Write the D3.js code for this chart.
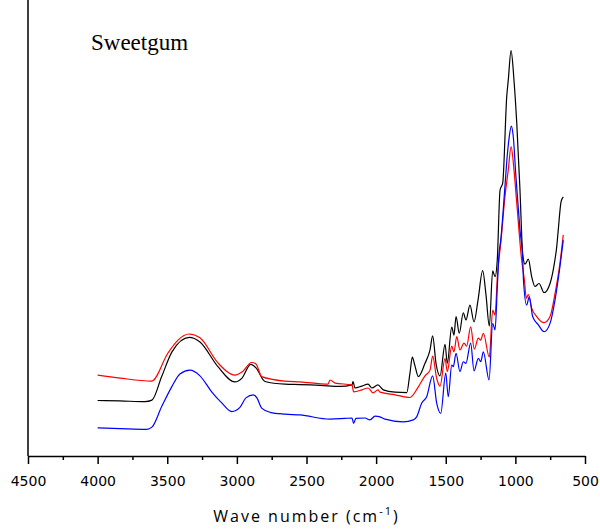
<!DOCTYPE html>
<html>
<head>
<meta charset="utf-8">
<script src="https://cdn.jsdelivr.net/npm/d3@7"></script>
<style>
  body { margin: 0; background: #fff; }
</style>
</head>
<body>
<svg id="plot"></svg>
<script>
// Spectra: [wave number (cm-1), absorbance (a.u.)]
const blackSpectrum = [
  [4000, 0.146], [3840, 0.145], [3660, 0.143], [3610, 0.147], [3540, 0.209],
  [3466, 0.274], [3342, 0.312], [3265, 0.300], [3136, 0.235], [3014, 0.195],
  [2963, 0.205], [2901, 0.241], [2863, 0.232], [2798, 0.196], [2654, 0.189],
  [2547, 0.188], [2403, 0.186], [2259, 0.183], [2173, 0.187], [2166, 0.196],
  [2152, 0.179], [2102, 0.184], [2058, 0.189], [2030, 0.179], [1987, 0.187],
  [1949, 0.174], [1864, 0.168], [1780, 0.167], [1757, 0.218], [1740, 0.260],
  [1721, 0.237], [1697, 0.209], [1649, 0.244], [1613, 0.279], [1594, 0.316],
  [1570, 0.244], [1541, 0.211], [1505, 0.294], [1489, 0.244], [1457, 0.339],
  [1441, 0.318], [1426, 0.367], [1403, 0.323], [1374, 0.377], [1355, 0.358],
  [1326, 0.397], [1297, 0.353], [1268, 0.411], [1235, 0.488], [1211, 0.424],
  [1187, 0.342], [1163, 0.487], [1146, 0.472], [1130, 0.516], [1110, 0.700],
  [1091, 0.718], [1062, 0.946], [1051, 0.989], [1031, 1.067], [1010, 0.989],
  [990, 0.876], [967, 0.700], [947, 0.530], [931, 0.505], [907, 0.518],
  [883, 0.472], [859, 0.446], [830, 0.454], [794, 0.430], [751, 0.454],
  [720, 0.507], [703, 0.551], [692, 0.595], [672, 0.669], [656, 0.682]
];

const redSpectrum = [
  [4000, 0.213], [3839, 0.205], [3612, 0.197], [3495, 0.271], [3423, 0.305],
  [3344, 0.321], [3265, 0.311], [3136, 0.245], [3014, 0.213], [2963, 0.221],
  [2894, 0.246], [2863, 0.242], [2822, 0.209], [2654, 0.197], [2547, 0.195],
  [2346, 0.189], [2331, 0.200], [2295, 0.192], [2173, 0.187], [2162, 0.169],
  [2102, 0.174], [2058, 0.179], [2022, 0.166], [1987, 0.174], [1972, 0.168],
  [1864, 0.161], [1757, 0.154], [1697, 0.182], [1649, 0.211], [1613, 0.226],
  [1594, 0.263], [1565, 0.204], [1541, 0.184], [1505, 0.257], [1489, 0.222],
  [1457, 0.289], [1441, 0.274], [1421, 0.314], [1398, 0.279], [1369, 0.297],
  [1350, 0.289], [1321, 0.340], [1295, 0.281], [1266, 0.310], [1249, 0.305],
  [1230, 0.323], [1187, 0.260], [1163, 0.384], [1146, 0.371], [1129, 0.475],
  [1105, 0.560], [1075, 0.682], [1051, 0.753], [1031, 0.814], [1010, 0.753],
  [990, 0.665], [955, 0.516], [935, 0.462], [921, 0.415], [907, 0.425],
  [883, 0.389], [847, 0.367], [794, 0.351], [751, 0.367], [715, 0.428],
  [680, 0.507], [656, 0.582]
];

const blueSpectrum = [
  [4000, 0.074], [3839, 0.072], [3648, 0.070], [3610, 0.076], [3540, 0.130],
  [3468, 0.182], [3409, 0.216], [3337, 0.226], [3265, 0.211], [3181, 0.169],
  [3107, 0.139], [3037, 0.117], [2978, 0.128], [2935, 0.153], [2882, 0.161],
  [2856, 0.153], [2822, 0.126], [2762, 0.115], [2654, 0.110], [2547, 0.108],
  [2331, 0.097], [2224, 0.099], [2173, 0.100], [2162, 0.086], [2145, 0.099],
  [2080, 0.100], [2044, 0.095], [2008, 0.105], [1972, 0.103], [1936, 0.097],
  [1805, 0.090], [1733, 0.095], [1709, 0.103], [1673, 0.139], [1637, 0.156],
  [1594, 0.211], [1565, 0.139], [1536, 0.112], [1500, 0.218], [1482, 0.156],
  [1457, 0.239], [1446, 0.235], [1426, 0.270], [1398, 0.222], [1374, 0.248],
  [1355, 0.244], [1321, 0.297], [1297, 0.224], [1266, 0.257], [1249, 0.248],
  [1230, 0.274], [1189, 0.200], [1163, 0.349], [1146, 0.332], [1129, 0.450],
  [1118, 0.530], [1105, 0.568], [1075, 0.709], [1058, 0.792], [1044, 0.840],
  [1029, 0.868], [1015, 0.840], [996, 0.735], [967, 0.595], [947, 0.516],
  [942, 0.463], [919, 0.397], [900, 0.419], [876, 0.367], [835, 0.345],
  [794, 0.327], [751, 0.349], [715, 0.411], [680, 0.498], [656, 0.568]
];

const series = [
  { name: "black", color: "#000000", values: blackSpectrum },
  { name: "red", color: "#ff0000", values: redSpectrum },
  { name: "blue", color: "#0000ff", values: blueSpectrum }
];

const xTicks = d3.range(4500, 499, -250);

// Dimensions
const margin = { top: 0, right: 15, bottom: 75, left: 28 };
const width = 600 - margin.left - margin.right;
const height = 531 - margin.top - margin.bottom;

const svg = d3.select('#plot')
    .attr("width", width + margin.left + margin.right)
    .attr("height", height + margin.top + margin.bottom)
    .style("display", "block")
    .append("g")
    .attr("transform", "translate(" + margin.left + "," + margin.top + ")");

// Scales
const x = d3.scaleLinear()
    .domain([4500, 500])
    .range([0, width]);

const y = d3.scaleLinear()
    .domain([0, 1.2])
    .range([height, 0]);

// Spectra
const line = d3.line()
    .x(d => x(d[0]))
    .y(d => y(d[1]))
    .curve(d3.curveMonotoneX);

svg.selectAll(".spectrum")
    .data(series)
    .enter().append("path")
    .attr("class", "spectrum")
    .attr("fill", "none")
    .attr("stroke", d => d.color)
    .attr("stroke-width", 1.2)
    .attr("stroke-linejoin", "round")
    .attr("d", d => line(d.values));

// x-axis
const xAxis = svg.append("g")
    .attr("transform", "translate(0," + height + ")")
    .call(d3.axisBottom(x)
        .tickValues(xTicks)
        .tickSize(8)
        .tickSizeOuter(0)
        .tickPadding(12)
        .tickFormat(d => d % 500 === 0 ? d : ""));

xAxis.select(".domain").attr("stroke-width", 1.5);
xAxis.selectAll(".tick line")
    .attr("stroke-width", 1.5)
    .attr("y2", d => d % 500 === 0 ? 8 : 4);
xAxis.selectAll(".tick text")
    .style("font-family", "'DejaVu Sans', sans-serif")
    .style("font-size", "14px")
    .attr("fill", "#000");

// y-axis line only, no ticks
svg.append("line")
    .attr("x1", 0).attr("x2", 0)
    .attr("y1", 0).attr("y2", height)
    .attr("stroke", "#000")
    .attr("stroke-width", 1.5);

// x-axis label
const xLabel = svg.append("text")
    .attr("x", width / 2)
    .attr("y", height + 66)
    .attr("text-anchor", "middle")
    .style("font-family", "'Open Sans', sans-serif")
    .style("font-size", "16px")
    .style("letter-spacing", "2px");
xLabel.append("tspan").text("Wave number (cm");
xLabel.append("tspan").attr("dy", -7).style("font-size", "11px").text("-1");
xLabel.append("tspan").attr("dy", 7).text(")");

// Sample name
svg.append("text")
    .attr("x", 63)
    .attr("y", 50)
    .style("font-family", "'Liberation Serif', 'Times New Roman', serif")
    .style("font-size", "23px")
    .text("Sweetgum");
</script>
</body>
</html>
